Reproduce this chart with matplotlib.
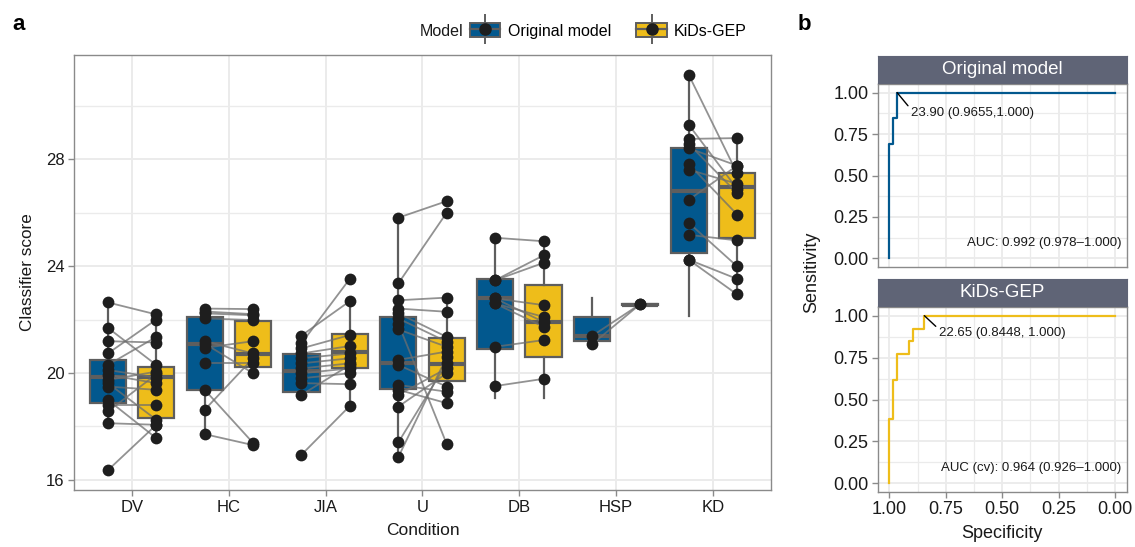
import matplotlib
matplotlib.use('Agg')
import matplotlib.pyplot as plt
from matplotlib.patches import Patch
from matplotlib.lines import Line2D
from matplotlib.legend_handler import HandlerTuple
from matplotlib.ticker import MultipleLocator

plt.rcParams['font.family'] = ['Liberation Sans', 'DejaVu Sans']

# ---- data ----
conditions = ['DV', 'HC', 'JIA', 'U', 'DB', 'HSP', 'KD']
models = ['Original model', 'KiDs-GEP']
model_colors = ['#02588E', '#EEBD1A']

# paired scores per patient: original model vs KiDs-GEP
dv_orig = [22.64, 21.69, 21.19, 20.73, 20.30, 20.11, 19.93, 19.74, 19.62, 19.49, 18.99, 18.81, 18.56, 18.12, 16.36]
dv_kids = [22.19, 20.30, 21.14, 22.00, 21.35, 19.83, 19.62, 20.05, 18.25, 19.37, 17.56, 18.81, 19.95, 18.06, 18.06]
hc_orig = [22.41, 22.23, 22.04, 21.19, 20.94, 20.36, 19.37, 18.62, 17.71, 22.30, 21.10]
hc_kids = [22.39, 22.16, 21.98, 20.73, 21.19, 20.36, 17.38, 20.55, 17.30, 22.20, 19.99]
jia_orig = [21.40, 21.11, 20.92, 20.73, 20.55, 20.36, 20.17, 19.99, 19.80, 19.62, 19.18, 16.94]
jia_kids = [22.69, 23.53, 21.42, 21.01, 20.73, 20.55, 20.36, 20.17, 19.99, 19.58, 20.30, 18.77]
u_orig = [25.81, 23.35, 22.72, 22.41, 22.23, 22.04, 21.85, 21.63, 20.49, 20.30, 19.55, 19.37, 19.18, 18.74, 17.40, 16.85]
u_kids = [26.43, 26.00, 22.82, 22.29, 21.35, 21.17, 17.34, 20.98, 20.80, 19.49, 19.30, 18.87, 20.17, 19.99, 20.36, 20.60]
db_orig = [25.06, 23.47, 23.47, 22.79, 22.79, 22.60, 22.60, 20.98, 19.51]
db_kids = [24.93, 24.40, 24.12, 22.54, 21.91, 22.10, 21.73, 21.23, 19.78]
hsp_orig = [21.38, 21.07]
hsp_kids = [22.58, 22.58]
kd_orig = [31.16, 29.29, 28.76, 28.57, 28.41, 27.82, 27.61, 26.48, 25.62, 25.17, 24.24, 24.24]
kd_kids = [27.47, 26.89, 28.79, 26.73, 27.76, 25.93, 27.08, 27.76, 23.99, 24.96, 23.52, 22.94]

# box statistics as drawn (DV, HC, JIA, U, DB, HSP, KD)
orig_q1 = [18.87, 19.37, 19.30, 19.39, 20.88, 21.19, 24.49]
orig_med = [19.85, 21.07, 20.09, 20.38, 22.79, 21.38, 26.80]
orig_q3 = [20.49, 22.10, 20.70, 22.10, 23.51, 22.10, 28.41]
orig_lo = [18.12, 17.71, 19.18, 16.85, 19.05, 21.07, 22.14]
orig_hi = [22.64, 22.41, 21.35, 25.81, 25.06, 22.79, 31.16]
kids_q1 = [18.31, 20.24, 20.17, 19.70, 20.58, 22.55, 25.06]
kids_med = [19.85, 20.70, 20.77, 20.32, 21.91, 22.56, 26.95]
kids_q3 = [20.21, 21.95, 21.44, 21.29, 23.31, 22.58, 27.47]
kids_lo = [17.56, 19.99, 18.77, 18.87, 19.06, 22.55, 22.94]
kids_hi = [22.19, 22.39, 22.69, 22.82, 24.93, 22.60, 28.79]

# ROC curves (specificity, sensitivity vertices)
roc_orig_spec = [1.0, 1.0, 0.9828, 0.9828, 0.9655, 0.9655, 0.0]
roc_orig_sens = [0.0, 0.692, 0.692, 0.846, 0.846, 1.0, 1.0]
roc_kids_spec = [1.0, 1.0, 0.9828, 0.9828, 0.9655, 0.9655, 0.9138, 0.9138, 0.8966, 0.8966, 0.8448, 0.8448, 0.0]
roc_kids_sens = [0.0, 0.385, 0.385, 0.615, 0.615, 0.769, 0.769, 0.846, 0.846, 0.923, 0.923, 1.0, 1.0]
cut_labels = ['23.90 (0.9655,1.000)', '22.65 (0.8448, 1.000)']
cut_points = [(0.9655, 1.0), (0.8448, 1.0)]
auc_labels = ['AUC: 0.992 (0.978\u20131.000)', 'AUC (cv): 0.964 (0.926\u20131.000)']

orig_scores = [dv_orig, hc_orig, jia_orig, u_orig, db_orig, hsp_orig, kd_orig]
kids_scores = [dv_kids, hc_kids, jia_kids, u_kids, db_kids, hsp_kids, kd_kids]

GRID = '#EBEBEB'
BORDER = '#8A8A8A'
BOXEDGE = '#5E5E5E'
TXT = '#1A1A1A'

fig = plt.figure(figsize=(11.35, 5.47), dpi=100)

# ---------------- panel a ----------------
ax = fig.add_axes([74 / 1135, 1 - 490 / 547, 697 / 1135, 435 / 547])
pos = list(range(1, len(conditions) + 1))
offset = 0.25
width = 0.375


def box_stats(q1, med, q3, lo, hi):
    return [dict(q1=a, med=b, q3=c, whislo=d, whishi=e, fliers=[])
            for a, b, c, d, e in zip(q1, med, q3, lo, hi)]


for k, (stats, color) in enumerate([
        (box_stats(orig_q1, orig_med, orig_q3, orig_lo, orig_hi), model_colors[0]),
        (box_stats(kids_q1, kids_med, kids_q3, kids_lo, kids_hi), model_colors[1])]):
    xs = [p + (-offset if k == 0 else offset) for p in pos]
    ax.bxp(stats, positions=xs, widths=width, patch_artist=True,
           showfliers=False, showcaps=False,
           boxprops=dict(facecolor=color, edgecolor=BOXEDGE, linewidth=1.6),
           medianprops=dict(color=BOXEDGE, linewidth=3),
           whiskerprops=dict(color=BOXEDGE, linewidth=1.6),
           zorder=2)

# paired lines and points
for p, a, b in zip(pos, orig_scores, kids_scores):
    for ya, yb in zip(a, b):
        ax.plot([p - offset, p + offset], [ya, yb], color='#6E6E6E', alpha=0.75,
                lw=1.3, zorder=3)
    ax.scatter([p - offset] * len(a), a, s=72, color='#1E1E1E', zorder=4, linewidths=0)
    ax.scatter([p + offset] * len(b), b, s=72, color='#1E1E1E', zorder=4, linewidths=0)

ax.set_xlim(0.4, 7.6)
ax.set_ylim(15.62, 31.9)
ax.set_xticks(pos)
ax.set_xticklabels(conditions)
ax.set_yticks([16, 20, 24, 28])
ax.yaxis.set_minor_locator(MultipleLocator(2))
ax.grid(which='major', color=GRID, lw=1.4, zorder=0)
ax.grid(which='minor', axis='y', color=GRID, lw=1.0, zorder=0)
ax.set_axisbelow(True)
ax.tick_params(which='minor', length=0)
ax.tick_params(which='major', length=4, width=1, color=BORDER, labelsize=12,
               labelcolor=TXT, pad=3)
for s in ax.spines.values():
    s.set_color(BORDER)
    s.set_linewidth(1.0)
ax.set_xlabel('Condition', fontsize=12.5, color=TXT, labelpad=6)
ax.set_ylabel('Classifier score', fontsize=12.3, color=TXT, labelpad=8)

# legend: box key with whisker, median and a point overlaid
handles = []
for c in model_colors:
    handles.append((Line2D([], [], color=BOXEDGE, marker='|', markersize=22,
                           markeredgewidth=1.4, linestyle='None'),
                    Patch(facecolor=c, edgecolor=BOXEDGE, linewidth=1.4),
                    Line2D([], [], color=BOXEDGE, lw=1.6),
                    Line2D([], [], color='#1E1E1E', marker='o', markersize=8,
                           linestyle='None')))
fig.text(420 / 1135, 1 - 31 / 547, 'Model', fontsize=11.5, color=TXT, va='center')
fig.legend(handles, models, handler_map={tuple: HandlerTuple(ndivide=1, pad=0)},
           loc='center left', bbox_to_anchor=(470 / 1135, 1 - 31 / 547), ncol=2,
           frameon=False, fontsize=11.5, handlelength=1.9, handleheight=1.0,
           handletextpad=0.45, columnspacing=1.6, borderpad=0, borderaxespad=0)

fig.text(12 / 1135, 1 - 25 / 547, 'a', fontsize=16, fontweight='bold', va='center')
fig.text(798 / 1135, 1 - 25 / 547, 'b', fontsize=16, fontweight='bold', va='center')

# ---------------- panel b ----------------
panels = [
    (1 - 266.7 / 547, 182.4 / 547, 1 - 82.7 / 547, roc_orig_spec, roc_orig_sens, models[0], model_colors[0]),
    (1 - 491.7 / 547, 184.4 / 547, 1 - 306 / 547, roc_kids_spec, roc_kids_sens, models[1], model_colors[1]),
]
for i, (b, h, strip_b, sp, se, title, color) in enumerate(panels):
    rax = fig.add_axes([878 / 1135, b, 248.5 / 1135, h])
    rax.plot(sp, se, color=color, lw=1.6, zorder=3)
    rax.set_xlim(1.05, -0.05)
    rax.set_ylim(-0.05, 1.05)
    ticks = [0, 0.25, 0.5, 0.75, 1.0]
    rax.set_xticks(ticks)
    rax.set_yticks(ticks)
    rax.set_yticklabels(['%.2f' % t for t in ticks])
    rax.xaxis.set_minor_locator(MultipleLocator(0.125))
    rax.yaxis.set_minor_locator(MultipleLocator(0.125))
    rax.grid(which='major', color=GRID, lw=1.3, zorder=0)
    rax.grid(which='minor', color=GRID, lw=0.9, zorder=0)
    rax.set_axisbelow(True)
    rax.tick_params(which='minor', length=0)
    rax.tick_params(which='major', length=4, width=1, color=BORDER, labelsize=13,
                    labelcolor=TXT, pad=3)
    for s in rax.spines.values():
        s.set_color(BORDER)
        s.set_linewidth(1.0)
    if i == 0:
        rax.tick_params(axis='x', length=0, labelbottom=False)
        txt_xy = (0.905, 0.875)
    else:
        rax.set_xticklabels(['%.2f' % t for t in ticks])
        rax.set_xlabel('Specificity', fontsize=13, color=TXT, labelpad=5)
        txt_xy = (0.782, 0.896)
    rax.annotate(cut_labels[i], xy=cut_points[i], xytext=txt_xy, fontsize=9.5,
                 color=TXT, ha='left', va='center',
                 arrowprops=dict(arrowstyle='-', color='black', lw=1.0,
                                 relpos=(0.0, 0.85), shrinkA=0, shrinkB=0))
    rax.text(-0.026, 0.09, auc_labels[i], fontsize=9.5, color=TXT, ha='right',
             va='center')
    # facet strip
    sax = fig.add_axes([878 / 1135, strip_b, 248.5 / 1135, 27 / 547])
    sax.set_facecolor('#5F6476')
    sax.set_xticks([])
    sax.set_yticks([])
    for s in sax.spines.values():
        s.set_color('#5F6476')
    sax.text(0.5, 0.5, title, color='white', fontsize=13.5, ha='center',
             va='center', transform=sax.transAxes)

fig.text(812 / 1135, 1 - 272 / 547, 'Sensitivity', rotation=90, fontsize=13,
         color=TXT, ha='center', va='center')

fig.savefig('out.png', dpi=100)
